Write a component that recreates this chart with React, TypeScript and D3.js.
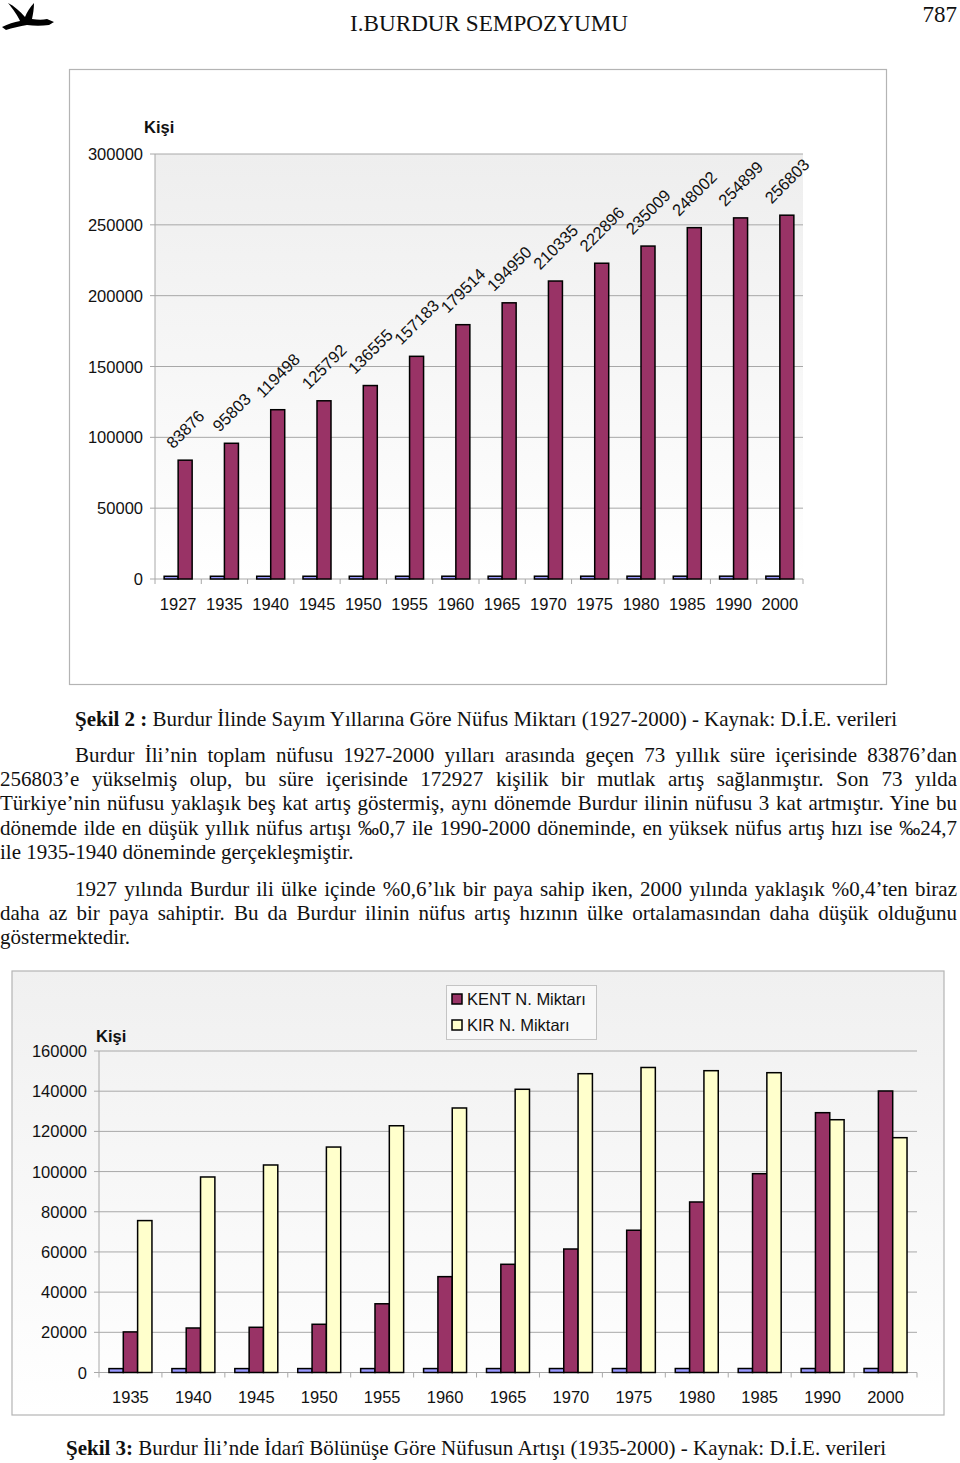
import React, { useLayoutEffect, useRef, useState } from "react";
import * as d3 from "d3";

// ---------- DATA ----------
const years1 = ["1927", "1935", "1940", "1945", "1950", "1955", "1960", "1965", "1970", "1975", "1980", "1985", "1990", "2000"];
const yearValues1 = [1927, 1935, 1940, 1945, 1950, 1955, 1960, 1965, 1970, 1975, 1980, 1985, 1990, 2000];
const totalPop = [83876, 95803, 119498, 125792, 136555, 157183, 179514, 194950, 210335, 222896, 235009, 248002, 254899, 256803];
const yTicks1 = [0, 50000, 100000, 150000, 200000, 250000, 300000];

const years2 = ["1935", "1940", "1945", "1950", "1955", "1960", "1965", "1970", "1975", "1980", "1985", "1990", "2000"];
const yearValues2 = [1935, 1940, 1945, 1950, 1955, 1960, 1965, 1970, 1975, 1980, 1985, 1990, 2000];
const kentPop = [20200, 22150, 22500, 24000, 34200, 47700, 53850, 61460, 70800, 84860, 98940, 129300, 140100];
const kirPop = [75600, 97300, 103270, 112200, 122800, 131640, 140950, 148700, 151800, 150200, 149200, 125800, 116860];
const yTicks2 = [0, 20000, 40000, 60000, 80000, 100000, 120000, 140000, 160000];
const legend2 = ["KENT N. Miktarı", "KIR N. Miktarı"];

const para1 = [
  "Burdur İli’nin toplam nüfusu 1927-2000 yılları arasında geçen 73 yıllık süre içerisinde 83876’dan",
  "256803’e yükselmiş olup, bu süre içerisinde 172927 kişilik bir mutlak artış sağlanmıştır. Son 73 yılda",
  "Türkiye’nin nüfusu yaklaşık beş kat artış göstermiş, aynı dönemde Burdur ilinin nüfusu 3 kat artmıştır. Yine bu",
  "dönemde ilde en düşük yıllık nüfus artışı ‰0,7 ile 1990-2000 döneminde, en yüksek nüfus artış hızı ise ‰24,7",
  "ile 1935-1940 döneminde gerçekleşmiştir.",
];
const para2 = [
  "1927 yılında Burdur ili ülke içinde %0,6’lık bir paya sahip iken, 2000 yılında yaklaşık %0,4’ten biraz",
  "daha az bir paya sahiptir. Bu da Burdur ilinin nüfus artış hızının ülke ortalamasından daha düşük olduğunu",
  "göstermektedir.",
];

// ---------- STYLE ----------
const SANS = "'Liberation Sans', Arial, sans-serif";
const SERIF = "'Liberation Serif', 'Times New Roman', serif";
const MAROON = "#993366";
const LAV = "#9999ff";
const YEL = "#ffffcc";
const GRID = "#a8a8a8";
const FS = 16.5;
const BODY_FS = 21;

function JLine({ x, y, width, text, justify }: { x: number; y: number; width: number; text: string; justify: boolean }) {
  const ref = useRef<SVGTextElement>(null);
  const [ws, setWs] = useState(0);
  useLayoutEffect(() => {
    if (!justify || !ref.current) return;
    const el = ref.current;
    el.style.wordSpacing = "0px";
    const natural = el.getComputedTextLength();
    const spaces = (text.match(/ /g) || []).length;
    if (spaces > 0) setWs((width - natural) / spaces);
  }, [text, width, justify]);
  return (
    <text ref={ref} x={x} y={y} fontFamily={SERIF} fontSize={BODY_FS} fill="#111" style={{ wordSpacing: `${ws}px`, whiteSpace: "pre" }}>
      {text}
    </text>
  );
}

function Chart1() {
  const left = 155, right = 803, top = 154, bottom = 579;
  const y = d3.scaleLinear().domain([0, 300000]).range([bottom, top]);
  const x0 = d3.scaleBand<string>().domain(years1).range([left, right]).padding(0);
  const bw = x0.bandwidth();
  const gw = bw * 0.605;
  const x1 = d3.scaleBand<string>().domain(["yr", "tot"]).range([0, gw]).padding(0);
  const off = (bw - gw) / 2;
  return (
    <g>
      <defs>
        <linearGradient id="g1" x1="0" y1="0" x2="0" y2="1">
          <stop offset="0" stopColor="#eeeeee" />
          <stop offset="1" stopColor="#ffffff" />
        </linearGradient>
      </defs>
      <rect x={69.5} y={69.5} width={817} height={615} fill="#fff" stroke="#b4b4b4" strokeWidth={1.2} />
      <rect x={left} y={top} width={right - left} height={bottom - top} fill="url(#g1)" />
      {yTicks1.map((t) => (
        <g key={t}>
          <line x1={left - 5} x2={right} y1={y(t)} y2={y(t)} stroke={GRID} strokeWidth={1} />
          <text x={143} y={y(t) + 6} textAnchor="end" fontFamily={SANS} fontSize={FS} fill="#111">{t}</text>
        </g>
      ))}
      <line x1={left} x2={left} y1={top} y2={bottom} stroke={GRID} />
      {years1.map((yr) => (
        <line key={"t" + yr} x1={(x0(yr) as number) + bw} x2={(x0(yr) as number) + bw} y1={bottom} y2={bottom + 5} stroke={GRID} />
      ))}
      <line x1={left} x2={left} y1={bottom} y2={bottom + 5} stroke={GRID} />
      {years1.map((yr, i) => {
        const bx = (x0(yr) as number) + off;
        const tx = bx + (x1("tot") as number);
        const w = x1.bandwidth();
        const tTop = y(totalPop[i]);
        const label = String(totalPop[i]);
        const tw = label.length * 0.556 * FS;
        const boxH = (tw + FS) * 0.7071;
        const cx = tx + w / 2;
        const cy = tTop - 9 - boxH / 2;
        return (
          <g key={yr}>
            <rect x={bx + (x1("yr") as number)} y={y(yearValues1[i])} width={w} height={bottom - y(yearValues1[i])} fill={LAV} stroke="#000" strokeWidth={1.5} />
            <rect x={tx} y={tTop} width={w} height={bottom - tTop} fill={MAROON} stroke="#000" strokeWidth={1.5} />
            <text transform={`translate(${cx},${cy}) rotate(-45)`} textAnchor="middle" dominantBaseline="central" fontFamily={SANS} fontSize={FS} fill="#111">{label}</text>
            <text x={(x0(yr) as number) + bw / 2} y={610} textAnchor="middle" fontFamily={SANS} fontSize={FS} fill="#111">{yr}</text>
          </g>
        );
      })}
      <text x={144} y={133} fontFamily={SANS} fontSize={FS} fontWeight="bold" fill="#111">Kişi</text>
    </g>
  );
}

function Chart2() {
  const left = 99, right = 917, top = 1051, bottom = 1372.5;
  const y = d3.scaleLinear().domain([0, 160000]).range([bottom, top]);
  const x0 = d3.scaleBand<string>().domain(years2).range([left, right]).padding(0);
  const bw = x0.bandwidth();
  const gw = bw * 0.683;
  const x1 = d3.scaleBand<string>().domain(["yr", "kent", "kir"]).range([0, gw]).padding(0);
  const off = (bw - gw) / 2;
  const w = x1.bandwidth();
  return (
    <g>
      <defs>
        <linearGradient id="g2" x1="0" y1="0" x2="0" y2="1">
          <stop offset="0" stopColor="#f0f0f0" />
          <stop offset="1" stopColor="#ffffff" />
        </linearGradient>
      </defs>
      <rect x={12} y={971} width={932} height={444} fill="url(#g2)" stroke="#b4b4b4" strokeWidth={1.2} />
      {yTicks2.map((t) => (
        <g key={t}>
          <line x1={left - 5} x2={right} y1={y(t)} y2={y(t)} stroke={GRID} strokeWidth={1} />
          <text x={87} y={y(t) + 6} textAnchor="end" fontFamily={SANS} fontSize={FS} fill="#111">{t}</text>
        </g>
      ))}
      <line x1={left} x2={left} y1={top} y2={bottom} stroke={GRID} />
      <line x1={left} x2={left} y1={bottom} y2={bottom + 5} stroke={GRID} />
      {years2.map((yr) => (
        <line key={"t" + yr} x1={(x0(yr) as number) + bw} x2={(x0(yr) as number) + bw} y1={bottom} y2={bottom + 5} stroke={GRID} />
      ))}
      {years2.map((yr, i) => {
        const bx = (x0(yr) as number) + off;
        return (
          <g key={yr}>
            <rect x={bx + (x1("yr") as number)} y={y(yearValues2[i])} width={w} height={bottom - y(yearValues2[i])} fill={LAV} stroke="#000" strokeWidth={1.5} />
            <rect x={bx + (x1("kent") as number)} y={y(kentPop[i])} width={w} height={bottom - y(kentPop[i])} fill={MAROON} stroke="#000" strokeWidth={1.5} />
            <rect x={bx + (x1("kir") as number)} y={y(kirPop[i])} width={w} height={bottom - y(kirPop[i])} fill={YEL} stroke="#000" strokeWidth={1.5} />
            <text x={(x0(yr) as number) + bw / 2} y={1403} textAnchor="middle" fontFamily={SANS} fontSize={FS} fill="#111">{yr}</text>
          </g>
        );
      })}
      <text x={96} y={1042} fontFamily={SANS} fontSize={FS} fontWeight="bold" fill="#111">Kişi</text>
      <rect x={446.5} y={985.5} width={150} height={54} fill="#f8f8f8" stroke="#c4c4c4" />
      {legend2.map((l, i) => (
        <g key={l}>
          <rect x={452} y={994 + i * 26} width={10} height={10} fill={i === 0 ? MAROON : YEL} stroke="#000" strokeWidth={1.5} />
          <text x={467} y={1005 + i * 26} fontFamily={SANS} fontSize={FS} fill="#111">{l}</text>
        </g>
      ))}
    </g>
  );
}

export default function App() {
  return (
    <svg width={960} height={1463} viewBox="0 0 960 1463" style={{ position: "absolute", left: 0, top: 0, display: "block", background: "#fff" }}>
      {/* header */}
      <path d="M2,27 C8,24 14,22 20,21 C18,16 13,9 8,3 C14,6 20,11 25,17 C27,12 30,7 34,3 C34,9 33,14 32,19 C38,20 43,20 47,19 L54,22 L49,25 C42,26 34,26 27,25 C20,26 12,28 6,30 Z" fill="#000" />
      <text x={489} y={31} textAnchor="middle" fontFamily={SERIF} fontSize={24} textLength={278} lengthAdjust="spacingAndGlyphs" fill="#111">I.BURDUR SEMPOZYUMU</text>
      <text x={957} y={22} textAnchor="end" fontFamily={SERIF} fontSize={23} fill="#111">787</text>

      <Chart1 />

      <text x={75} y={726} fontFamily={SERIF} fontSize={BODY_FS} fill="#111">
        <tspan fontWeight="bold">Şekil 2 :</tspan>
        <tspan> Burdur İlinde Sayım Yıllarına Göre Nüfus Miktarı (1927-2000) - Kaynak: D.İ.E. verileri</tspan>
      </text>

      {para1.map((t, i) => (
        <JLine key={"p1" + i} x={i === 0 ? 75 : 0} y={762 + i * 24.2} width={i === 0 ? 882 : 957} text={t} justify={i < para1.length - 1} />
      ))}
      {para2.map((t, i) => (
        <JLine key={"p2" + i} x={i === 0 ? 75 : 0} y={896 + i * 24.2} width={i === 0 ? 882 : 957} text={t} justify={i < para2.length - 1} />
      ))}

      <Chart2 />

      <text x={66} y={1455} fontFamily={SERIF} fontSize={BODY_FS} fill="#111">
        <tspan fontWeight="bold">Şekil 3:</tspan>
        <tspan> Burdur İli’nde İdarî Bölünüşe Göre Nüfusun Artışı (1935-2000) - Kaynak: D.İ.E. verileri</tspan>
      </text>
    </svg>
  );
}
